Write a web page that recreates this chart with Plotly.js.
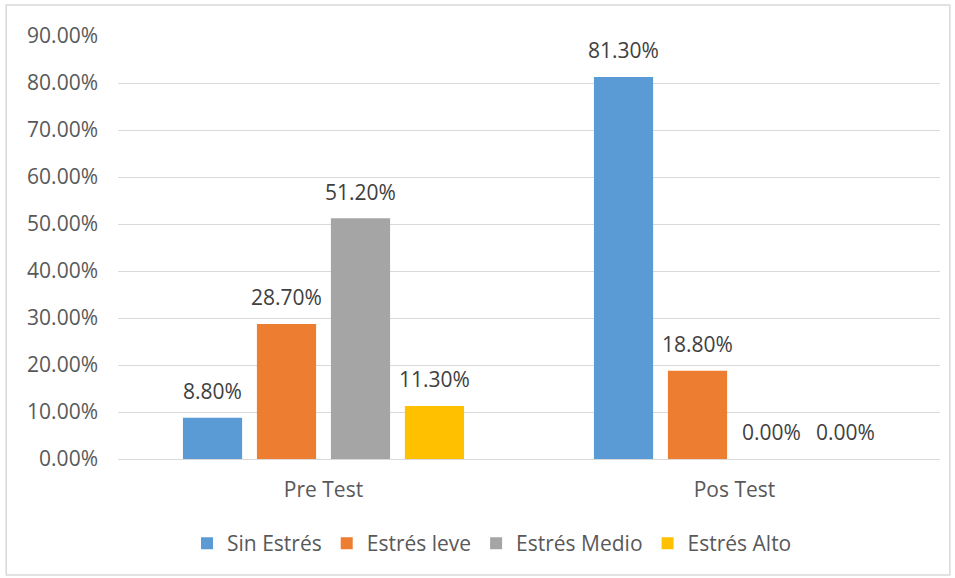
<!DOCTYPE html>
<html>
<head>
<meta charset="utf-8">
<script src="https://cdn.plot.ly/plotly-3.0.1.min.js"></script>
<style>html,body{margin:0;padding:0;background:#fff;}#chart{width:955px;height:578px;}</style>
</head>
<body>
<div id="chart"></div>
<script>
const categories = ["Pre Test", "Pos Test"];
const seriesNames = ["Sin Estrés", "Estrés leve", "Estrés Medio", "Estrés Alto"];
const sinEstres = [8.8, 81.3];
const estresLeve = [28.7, 18.8];
const estresMedio = [51.2, 0.0];
const estresAlto = [11.3, 0.0];
const yTicks = [0, 10, 20, 30, 40, 50, 60, 70, 80, 90];

const colors = ["#5B9BD5", "#ED7D31", "#A5A5A5", "#FFC000"];
const seriesValues = [sinEstres, estresLeve, estresMedio, estresAlto];
const fontFam = "Open Sans, sans-serif";
const FS = 21;

const barTraces = seriesValues.map((vals, i) => ({
  type: "bar",
  name: seriesNames[i],
  x: categories,
  y: vals,
  marker: {color: colors[i]},
  hoverinfo: "none"
}));

const labelTraces = seriesValues.map((vals, i) => ({
  type: "scatter",
  mode: "markers+text",
  name: seriesNames[i] + " label",
  x: categories,
  y: vals,
  text: vals.map(v => v.toFixed(2) + "%"),
  textposition: "top center",
  textfont: {family: fontFam, size: FS, color: "#404040"},
  marker: {size: 20, color: "rgba(0,0,0,0)"},
  cliponaxis: false,
  showlegend: false,
  hoverinfo: "none"
}));

const layout = {
  width: 955, height: 578,
  margin: {l: 118, r: 15, t: 36, b: 119},
  paper_bgcolor: "#ffffff",
  plot_bgcolor: "#ffffff",
  barmode: "group",
  scattermode: "group",
  bargap: 0.28,
  bargroupgap: 0.2,
  scattergap: 0.28,
  showlegend: true,
  legend: {
    orientation: "h", x: 0.455, xanchor: "center", y: -0.2, yanchor: "middle",
    font: {family: fontFam, size: FS, color: "#595959"},
    itemclick: false, itemdoubleclick: false, tracegroupgap: 0
  },
  xaxis: {
    showgrid: false, showline: false, zeroline: false,
    tickfont: {family: fontFam, size: FS, color: "#595959"},
    ticklabelstandoff: 16, fixedrange: true
  },
  yaxis: {
    range: [0, 90], tickvals: yTicks,
    ticktext: yTicks.map(v => v.toFixed(2) + "%"),
    showgrid: true, gridcolor: "#d9d9d9", gridwidth: 1,
    zeroline: true, zerolinecolor: "#d9d9d9", zerolinewidth: 1,
    showline: false,
    tickfont: {family: fontFam, size: FS, color: "#595959"},
    ticklabelstandoff: 19, fixedrange: true
  },
  shapes: [{
    type: "rect", xref: "paper", yref: "paper",
    x0: -0.136, x1: 1.012, y0: -0.274, y1: 1.073,
    line: {color: "#d9d9d9", width: 1.5}, fillcolor: "rgba(0,0,0,0)", layer: "below"
  }]
};

Plotly.newPlot("chart", barTraces.concat(labelTraces), layout, {displayModeBar: false, staticPlot: true});
</script>
</body>
</html>
